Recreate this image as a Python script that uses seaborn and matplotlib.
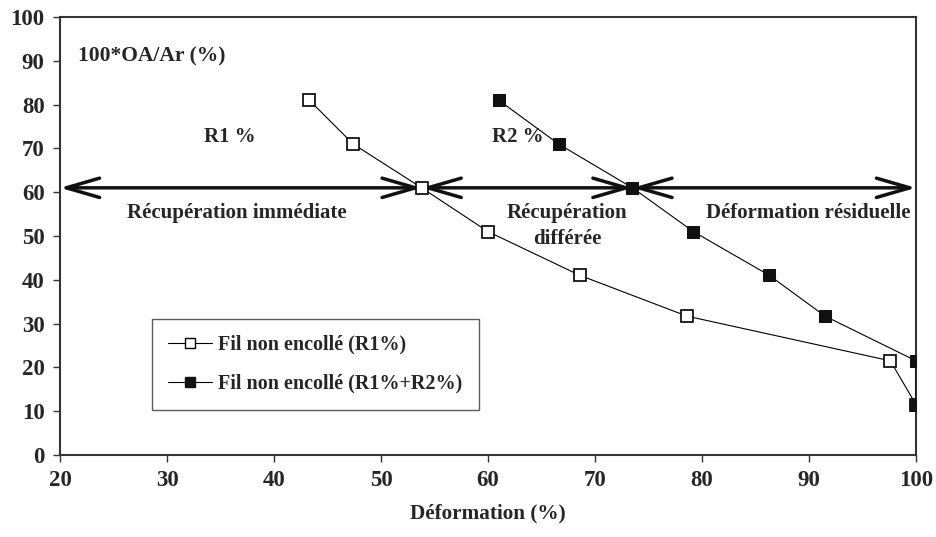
import matplotlib
matplotlib.use("Agg")
import matplotlib.pyplot as plt
import seaborn as sns
import pandas as pd
from matplotlib.lines import Line2D
from matplotlib.patches import ArrowStyle

sns.set_theme(style="white")
plt.rcParams['font.family'] = ['Liberation Serif', 'DejaVu Serif']
plt.rcParams['font.weight'] = 'bold'

# Data
y_ratio = [81, 71, 61, 51, 41, 31.7, 21.5, 11.5]
x_r1 = [43.3, 47.4, 53.8, 60.0, 68.6, 78.6, 97.6, 100.0]
x_r1r2 = [61.0, 66.6, 73.5, 79.2, 86.3, 91.5, 100.0, 100.0]
labels = ["Fil non encollé (R1%)", "Fil non encollé (R1%+R2%)"]
arrow_bounds = [20, 53.8, 73.5, 100]
arrow_y = 61
xticks = [20, 30, 40, 50, 60, 70, 80, 90, 100]
yticks = [0, 10, 20, 30, 40, 50, 60, 70, 80, 90, 100]

df1 = pd.DataFrame({"x": x_r1, "y": y_ratio})
df2 = pd.DataFrame({"x": x_r1r2, "y": y_ratio})

fig = plt.figure(figsize=(9.37, 5.37), dpi=100)
ax = fig.add_axes([60/937, 1-455/537, (916-60)/937, (455-17)/537])

sns.lineplot(data=df1, x="x", y="y", sort=False, estimator=None, ax=ax, color="black",
             linewidth=0.8, marker="s", markersize=9, markerfacecolor="white",
             markeredgecolor="black", markeredgewidth=1.2, zorder=4)
sns.lineplot(data=df2, x="x", y="y", sort=False, estimator=None, ax=ax, color="black",
             linewidth=0.8, marker="s", markersize=9, markerfacecolor="#111111",
             markeredgecolor="#111111", zorder=5)

# Arrows
style = ArrowStyle('<->', head_length=2.0, head_width=0.58)
for a, b in zip(arrow_bounds[:-1], arrow_bounds[1:]):
    ax.annotate("", xy=(b, arrow_y), xytext=(a, arrow_y),
                arrowprops=dict(arrowstyle=style, color="#111111", lw=2.5,
                                shrinkA=0, shrinkB=0), zorder=3, annotation_clip=False)

fs = 15
ax.text(21.7, 90.9, "100*OA/Ar (%)", fontsize=15.5, fontweight="bold", va="center", ha="left")
ax.text(35.9, 72.6, "R1 %", fontsize=fs, fontweight="bold", va="center", ha="center")
ax.text(62.8, 72.6, "R2 %", fontsize=fs, fontweight="bold", va="center", ha="center")
ax.text(36.5, 55.2, "Récupération immédiate", fontsize=fs, fontweight="bold", va="center", ha="center")
ax.text(67.4, 52.3, "Récupération\ndifférée", fontsize=fs, fontweight="bold", va="center",
        ha="center", linespacing=1.35)
ax.text(89.9, 55.2, "Déformation résiduelle", fontsize=fs, fontweight="bold", va="center", ha="center")

ax.set_xlim(20, 100)
ax.set_ylim(0, 100)
ax.set_xticks(xticks)
ax.set_yticks(yticks)
ax.tick_params(axis="both", direction="out", length=5, width=1, color="#333333",
               labelsize=16.5, bottom=True, left=True, pad=6)
for lab in ax.get_xticklabels() + ax.get_yticklabels():
    lab.set_fontweight("bold")
ax.set_xlabel("Déformation (%)", fontsize=15.3, fontweight="bold", labelpad=9)
ax.set_ylabel("")
for sp in ax.spines.values():
    sp.set_visible(True)
    sp.set_color("#333333")
    sp.set_linewidth(1.5)

handles = [
    Line2D([0], [0], color="black", lw=0.8, marker="s", markersize=7,
           markerfacecolor="white", markeredgecolor="black", markeredgewidth=1.0),
    Line2D([0], [0], color="black", lw=0.8, marker="s", markersize=7,
           markerfacecolor="#111111", markeredgecolor="#111111"),
]
leg = ax.legend(handles, labels, loc="lower left", bbox_to_anchor=(152/937, 1-410/537),
                bbox_transform=fig.transFigure, frameon=True, fancybox=False,
                edgecolor="#333333", handlelength=2.2, handletextpad=0.3,
                labelspacing=0.95, borderpad=0.8, borderaxespad=0,
                prop={"weight": "bold", "size": 14.5})
leg.get_frame().set_linewidth(1.0)

fig.savefig("out.png", dpi=100)
